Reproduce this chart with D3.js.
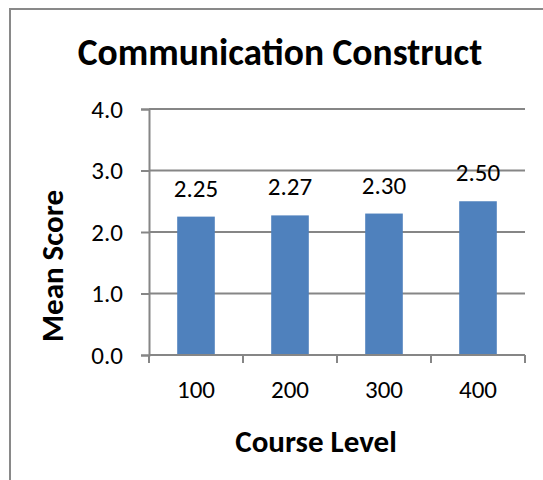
<!DOCTYPE html>
<html>
<head>
<meta charset="utf-8">
<script src="https://cdn.jsdelivr.net/npm/d3@7"></script>
<style>
  body { margin: 0; background: #fff; }
  text { font-family: Carlito, Lato, "Open Sans", sans-serif; fill: #000; }
</style>
</head>
<body>
<svg></svg>
<script>
const levels = ['100', '200', '300', '400'];
const meanScores = [2.25, 2.27, 2.30, 2.50];
const yTicks = [0, 1, 2, 3, 4];

const width = 543, height = 480;
const margin = {top: 109, right: 18, bottom: 125, left: 149};
const innerWidth = width - margin.left - margin.right;
const innerHeight = height - margin.top - margin.bottom;

const svg = d3.select('svg')
    .attr('width', width)
    .attr('height', height);

// chart frame (runs off the right and bottom)
svg.append('rect')
    .attr('x', 10).attr('y', 9)
    .attr('width', 560).attr('height', 500)
    .attr('fill', 'none')
    .attr('stroke', '#898989')
    .attr('stroke-width', 2);

svg.append('text')
    .attr('x', 280).attr('y', 65)
    .attr('text-anchor', 'middle')
    .style('font-size', '37.5px')
    .style('font-weight', 'bold')
    .text('Communication Construct');

const g = svg.append('g')
    .attr('transform', `translate(${margin.left}, ${margin.top})`);

const xScale = d3.scaleBand()
    .domain(levels)
    .range([0, innerWidth])
    .paddingInner(0.6)
    .paddingOuter(0.3);

const yScale = d3.scaleLinear()
    .domain([0, 4])
    .range([innerHeight, 0]);

// left axis
const yAxis = g.append('g').call(d3.axisLeft(yScale)
    .tickValues(yTicks)
    .tickFormat(d3.format('.1f'))
    .tickSize(8)
    .tickPadding(18));
yAxis.select('.domain').attr('stroke', '#868686').attr('stroke-width', 2);
yAxis.selectAll('.tick line').attr('stroke', '#868686').attr('stroke-width', 2);
yAxis.selectAll('.tick text')
    .style('font-size', '25px')
    .attr('dy', '0.32em');

// gridlines
g.append('g').selectAll('line').data(yTicks.filter(d => d > 0))
    .enter().append('line')
    .attr('x1', 0).attr('x2', innerWidth)
    .attr('y1', d => yScale(d)).attr('y2', d => yScale(d))
    .attr('stroke', '#868686')
    .attr('stroke-width', 2);

g.selectAll('rect.bar').data(meanScores)
    .enter().append('rect')
    .attr('class', 'bar')
    .attr('x', (d, i) => xScale(levels[i]))
    .attr('y', d => yScale(d))
    .attr('width', xScale.bandwidth())
    .attr('height', d => innerHeight - yScale(d))
    .attr('fill', '#4f81bd');

g.selectAll('text.val').data(meanScores)
    .enter().append('text')
    .attr('class', 'val')
    .attr('x', (d, i) => xScale(levels[i]) + xScale.bandwidth() / 2)
    .attr('y', d => yScale(d) - 20)
    .attr('text-anchor', 'middle')
    .style('font-size', '25px')
    .text(d => d.toFixed(2));

// x axis with category boundary ticks
const step = xScale.step();
const xAxis = g.append('g')
    .attr('transform', `translate(0, ${innerHeight})`);
xAxis.append('line')
    .attr('x1', 0).attr('x2', innerWidth)
    .attr('stroke', '#868686').attr('stroke-width', 2);
xAxis.selectAll('line.tk').data(d3.range(levels.length + 1))
    .enter().append('line')
    .attr('class', 'tk')
    .attr('x1', i => i * step).attr('x2', i => i * step)
    .attr('y1', 0).attr('y2', 8)
    .attr('stroke', '#868686').attr('stroke-width', 2);
xAxis.selectAll('text').data(levels)
    .enter().append('text')
    .attr('x', d => xScale(d) + xScale.bandwidth() / 2)
    .attr('y', 43)
    .attr('text-anchor', 'middle')
    .style('font-size', '25px')
    .text(d => d);

svg.append('text')
    .attr('x', 316).attr('y', 452)
    .attr('text-anchor', 'middle')
    .style('font-size', '31px')
    .style('font-weight', 'bold')
    .text('Course Level');

svg.append('text')
    .attr('transform', 'translate(63, 266) rotate(-90)')
    .attr('text-anchor', 'middle')
    .style('font-size', '31px')
    .style('font-weight', 'bold')
    .text('Mean Score');
</script>
</body>
</html>
